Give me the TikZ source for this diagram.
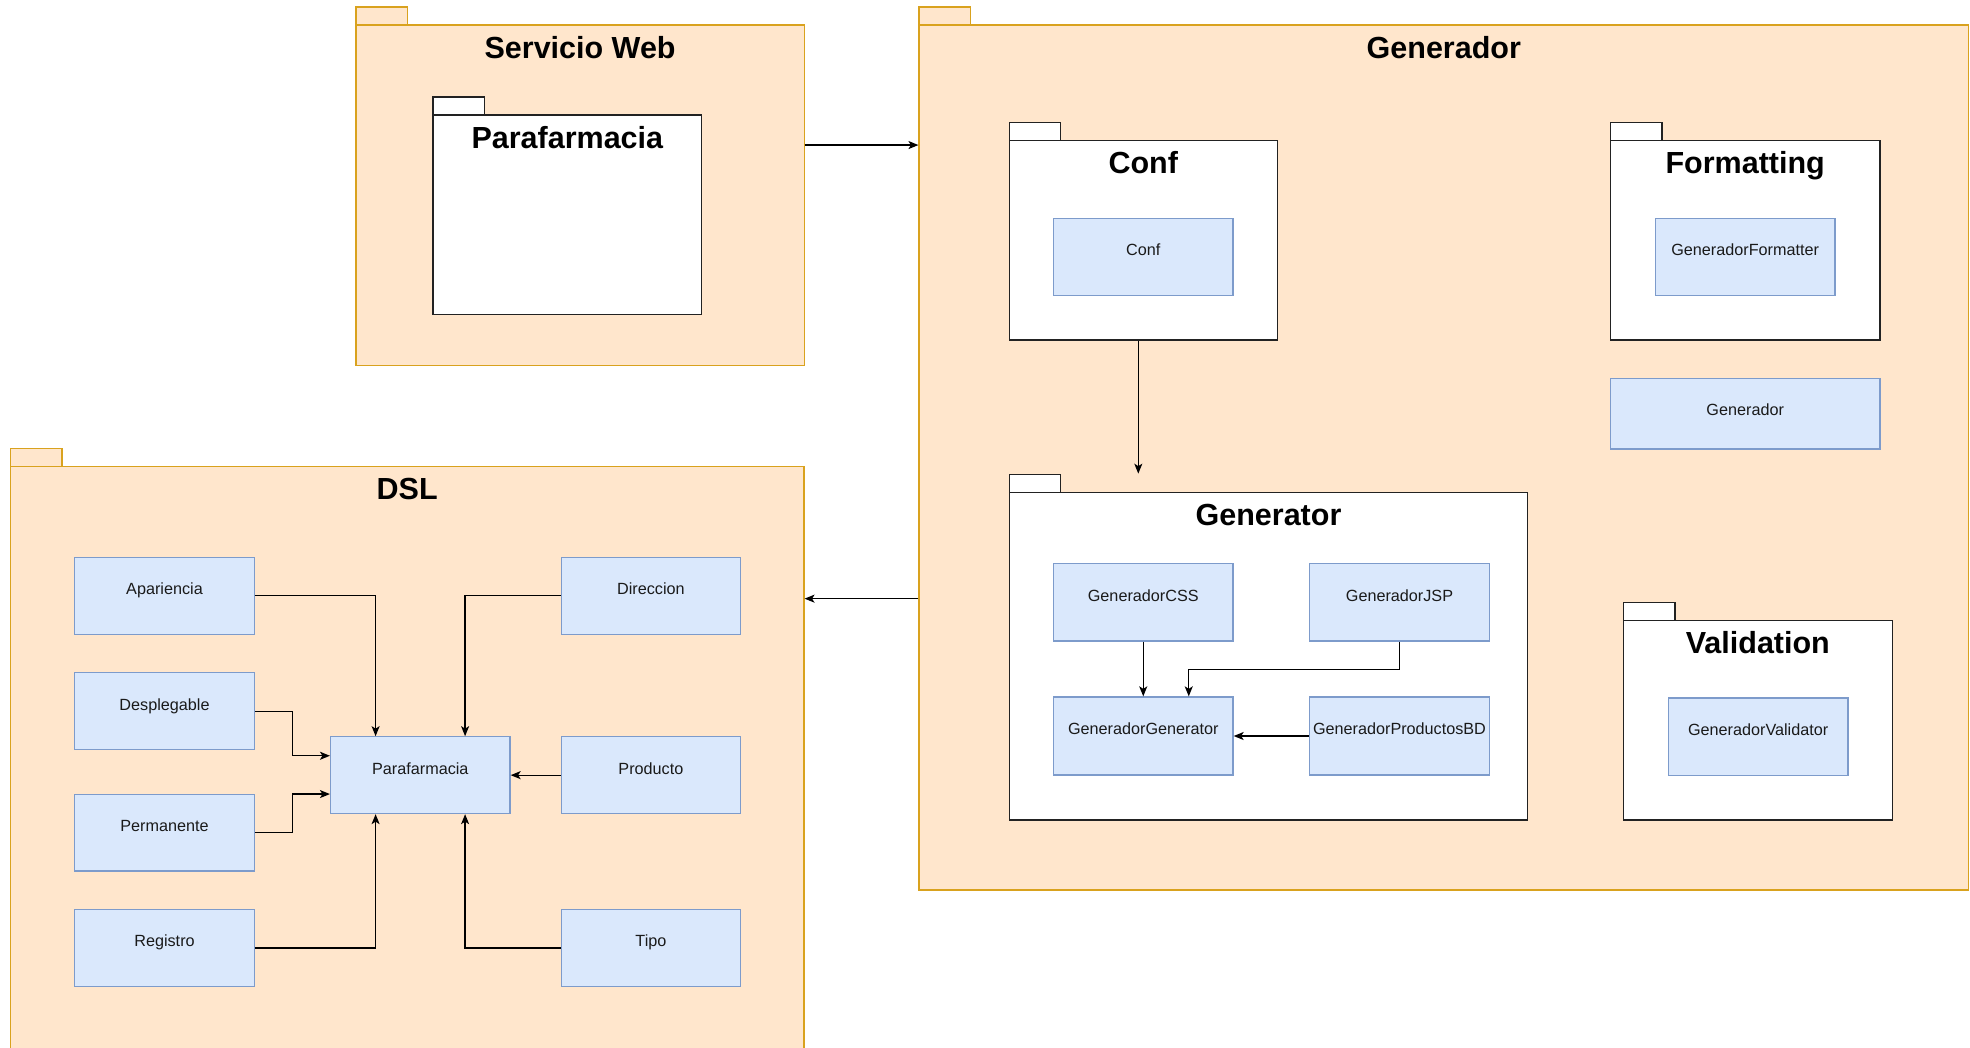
\documentclass[tikz,border=0pt]{standalone}
\usepackage{fontspec}
\setmainfont{Liberation Sans}
\usetikzlibrary{arrows.meta,fit,calc}

\definecolor{pkgbg}{HTML}{FFE6CC}
\definecolor{pkgline}{HTML}{D9A21E}
\definecolor{clsbg}{HTML}{DAE8FC}
\definecolor{clsline}{HTML}{7D9BCB}
\definecolor{innerline}{HTML}{222222}
\definecolor{txt}{HTML}{1A1A1A}

\tikzset{
  outerpkg/.style={fill=pkgbg, draw=pkgline, line width=1.3pt, inner sep=0pt},
  innerpkg/.style={fill=white, draw=innerline, line width=1.3pt, inner sep=0pt},
  cls/.style={fill=clsbg, draw=clsline, line width=1.3pt, inner sep=0pt},
  ptitle/.style={font=\bfseries\fontsize{30.5}{36}\selectfont, text=black, inner sep=0pt},
  ctext/.style={font=\fontsize{16.2}{19}\selectfont, text=txt, inner sep=0pt},
  link/.style={draw=black, line width=1.3pt, -{Stealth[length=10pt, width=8pt, inset=2.5pt]}},
}

% package: name, style, x1, y1, x2, y2, title
\newcommand\pkgdraw[7]{%
  \node[#2, fit={(#3,#4-18) (#3+51.5,#4)}] (#1tab) {};
  \node[#2, fit={(#3,#4) (#5,#6)}] (#1) {};
  \node[ptitle, anchor=base] (#1title) at ($(#1.north)+(0,34)$) {#7};
}
% class box: name, x1, y1, x2, y2, label
\newcommand\clsdraw[6]{%
  \node[cls, fit={(#2,#3) (#4,#5)}] (#1) {};
  \node[ctext, anchor=base] (#1txt) at ($(#1.north)+(0,38)$) {#6};
}

\begin{document}
\begin{tikzpicture}[x=1pt, y=-1pt]
\useasboundingbox (0,0) rectangle (1970,1047);

% outer packages
\pkgdraw{sw}{outerpkg}{355.9}{25}{804.3}{365.7}{Servicio Web}
\pkgdraw{gen}{outerpkg}{919.1}{25}{1968.5}{890}{Generador}
\pkgdraw{dsl}{outerpkg}{10.5}{466.3}{803.9}{1055}{DSL}

% nested packages
\pkgdraw{swp}{innerpkg}{432.9}{115}{701.8}{314.3}{Parafarmacia}
\pkgdraw{confp}{innerpkg}{1009.2}{140.3}{1277.4}{340}{Conf}
\pkgdraw{fmtp}{innerpkg}{1610.4}{140.3}{1880}{340}{Formatting}
\pkgdraw{gtor}{innerpkg}{1009.2}{492.3}{1527.8}{820}{Generator}
\pkgdraw{valp}{innerpkg}{1623.4}{620.3}{1892.2}{820}{Validation}

% classes of Generador
\clsdraw{conf}{1053.5}{218.3}{1233}{295.3}{Conf}
\clsdraw{fmt}{1655.4}{218.3}{1834.9}{295.3}{GeneradorFormatter}
\clsdraw{gencls}{1610.4}{378.3}{1880}{449}{Generador}
\clsdraw{css}{1053.5}{563.7}{1233}{641}{GeneradorCSS}
\clsdraw{jsp}{1309.4}{563.7}{1489.6}{641}{GeneradorJSP}
\clsdraw{gg}{1053.5}{697}{1233}{775}{GeneradorGenerator}
\clsdraw{pbd}{1309.4}{697}{1489.6}{775}{GeneradorProductosBD}
\clsdraw{val}{1668.4}{698}{1847.9}{775.3}{GeneradorValidator}

% classes of DSL
\clsdraw{ap}{74.8}{557.3}{254.2}{634.3}{Apariencia}
\clsdraw{des}{74.8}{672.7}{254.2}{749.7}{Desplegable}
\clsdraw{per}{74.8}{794.2}{254.2}{870.9}{Permanente}
\clsdraw{reg}{74.8}{909.6}{254.2}{986.3}{Registro}
\clsdraw{para}{330.6}{736.8}{510}{813.5}{Parafarmacia}
\clsdraw{dir}{561.2}{557.3}{740.6}{634.3}{Direccion}
\clsdraw{pro}{561.2}{736.8}{740.6}{813.5}{Producto}
\clsdraw{tip}{561.2}{909.6}{740.6}{986.3}{Tipo}

% dependencies between packages
\coordinate (swout) at ($(sw.north east)+(0,120.7)$);
\draw[link] (swout) -- (swout -| gen.west);
\coordinate (genout) at ($(gen.north west)+(0,574.3)$);
\draw[link] (genout) -- (genout -| dsl.east);
\coordinate (confout) at ($(confp.south)+(-5,0)$);
\draw[link] (confout) -- (confout |- gtortab.north);

% dependencies inside Generator
\draw[link] (css.south) -- (gg.north -| css.south);
\draw[link] (jsp.south) -- ++(0,28) -| ($(gg.north)+(45.5,0)$);
\draw[link] (pbd.west) -- (gg.east);

% dependencies inside DSL
\draw[link] (ap.east) -| ($(para.north)+(-44.7,0)$);
\draw[link] (dir.west) -| ($(para.north)+(44.8,0)$);
\draw[link] (des.east) -- ++(37.6,0) |- ($(para.west)+(0,-19.4)$);
\draw[link] (per.east) -- ++(37.6,0) |- ($(para.west)+(0,18.9)$);
\draw[link] (pro.west) -- (para.east);
\draw[link] (reg.east) -| ($(para.south)+(-44.7,0)$);
\draw[link] (tip.west) -| ($(para.south)+(44.8,0)$);
\end{tikzpicture}
\end{document}
